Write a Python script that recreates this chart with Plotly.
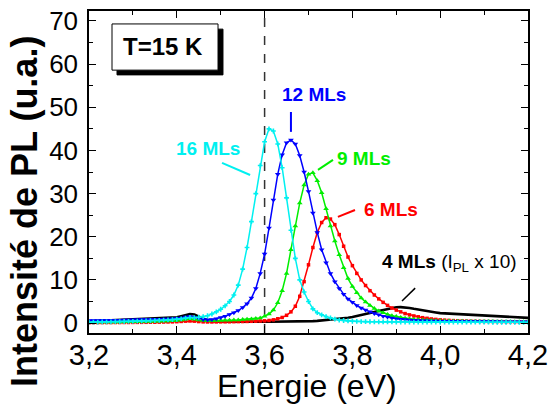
import numpy as np
import plotly.graph_objects as go

# ---------------- data ----------------
energy = [round(3.20 + 0.01 * i, 2) for i in range(101)]

ml16_cyan = [
    0.20, 0.22, 0.24, 0.26, 0.28, 0.30, 0.32, 0.34, 0.36, 0.38,
    0.40, 0.43, 0.46, 0.50, 0.54, 0.58, 0.62, 0.68, 0.74, 0.80,
    0.88, 0.98, 1.15, 1.30, 1.25, 1.35, 1.50, 1.70, 2.10, 2.60,
    3.20, 4.00, 5.00, 6.50, 8.80, 12.5, 17.5, 23.5, 30.0, 36.5,
    42.0, 45.0, 44.5, 41.5, 36.0, 29.0, 21.5, 15.0, 10.0, 7.20,
    5.00, 3.30, 2.40, 1.90, 1.50, 1.20, 0.90, 0.70, 0.60, 0.50,
    0.42, 0.38, 0.35, 0.33, 0.31, 0.30, 0.29, 0.28, 0.27, 0.26,
    0.25, 0.25, 0.24, 0.24, 0.24, 0.23, 0.23, 0.23, 0.22, 0.22,
    0.22, 0.22, 0.21, 0.21, 0.21, 0.21, 0.20, 0.20, 0.20, 0.20,
    0.20, 0.20, 0.19, 0.19, 0.19, 0.19, 0.19, 0.18, 0.18, 0.18, 0.18,
]

ml12_blue = [
    0.60, 0.61, 0.62, 0.63, 0.64, 0.65, 0.66, 0.68, 0.70, 0.72,
    0.75, 0.78, 0.80, 0.82, 0.85, 0.88, 0.90, 0.93, 0.96, 1.00,
    1.10, 1.20, 1.40, 1.50, 1.35, 1.10, 0.85, 0.75, 0.80, 1.00,
    1.30, 1.60, 2.00, 2.40, 2.90, 3.60, 4.50, 5.80, 8.00, 11.5,
    16.0, 22.0, 28.5, 34.5, 39.0, 41.8, 42.4, 41.5, 38.8, 35.0,
    30.5, 25.5, 21.0, 17.0, 14.0, 11.5, 9.60, 8.00, 6.70, 5.60,
    4.80, 4.10, 3.50, 3.00, 2.60, 2.20, 1.90, 1.60, 1.40, 1.20,
    1.00, 0.90, 0.80, 0.72, 0.65, 0.60, 0.56, 0.52, 0.49, 0.47,
    0.45, 0.44, 0.43, 0.42, 0.41, 0.40, 0.39, 0.38, 0.37, 0.36,
    0.35, 0.35, 0.34, 0.34, 0.33, 0.33, 0.32, 0.32, 0.31, 0.31, 0.30,
]

ml9_green = [
    0.20, 0.21, 0.22, 0.23, 0.24, 0.25, 0.26, 0.27, 0.28, 0.29,
    0.30, 0.32, 0.34, 0.36, 0.38, 0.40, 0.43, 0.46, 0.50, 0.55,
    0.62, 0.72, 0.90, 1.00, 0.90, 0.70, 0.58, 0.55, 0.56, 0.58,
    0.60, 0.63, 0.66, 0.70, 0.74, 0.80, 0.86, 0.95, 1.05, 1.20,
    1.60, 2.10, 3.00, 4.70, 7.50, 11.5, 17.0, 22.5, 27.8, 32.0,
    34.5, 34.8, 33.0, 30.2, 26.5, 22.5, 19.0, 15.8, 12.8, 10.3,
    8.50, 7.00, 5.80, 4.90, 4.10, 3.40, 2.80, 2.40, 2.00, 1.70,
    1.50, 1.30, 1.10, 0.98, 0.88, 0.80, 0.72, 0.66, 0.60, 0.56,
    0.52, 0.49, 0.46, 0.44, 0.42, 0.40, 0.39, 0.38, 0.37, 0.36,
    0.35, 0.34, 0.34, 0.33, 0.33, 0.32, 0.32, 0.31, 0.31, 0.30, 0.30,
]

ml6_red = [
    0.10, 0.10, 0.11, 0.11, 0.12, 0.12, 0.13, 0.13, 0.14, 0.14,
    0.15, 0.16, 0.17, 0.18, 0.19, 0.20, 0.22, 0.24, 0.26, 0.28,
    0.32, 0.38, 0.45, 0.50, 0.45, 0.35, 0.28, 0.26, 0.26, 0.27,
    0.28, 0.29, 0.30, 0.32, 0.34, 0.36, 0.38, 0.41, 0.44, 0.48,
    0.52, 0.60, 0.75, 1.00, 1.30, 1.80, 2.60, 3.90, 6.20, 9.60,
    13.5, 17.5, 21.0, 23.3, 24.4, 24.1, 22.8, 20.5, 17.8, 15.3,
    13.3, 11.5, 10.0, 8.70, 7.50, 6.50, 5.60, 4.80, 4.10, 3.50,
    3.00, 2.60, 2.20, 1.90, 1.65, 1.45, 1.25, 1.10, 0.95, 0.85,
    0.75, 0.68, 0.62, 0.57, 0.53, 0.50, 0.47, 0.44, 0.42, 0.40,
    0.38, 0.37, 0.36, 0.35, 0.34, 0.33, 0.32, 0.31, 0.30, 0.30, 0.29,
]

ml4_black_x10 = [
    0.40, 0.44, 0.48, 0.52, 0.56, 0.60, 0.64, 0.68, 0.72, 0.76,
    0.80, 0.84, 0.88, 0.92, 0.96, 1.00, 1.05, 1.10, 1.15, 1.20,
    1.35, 1.60, 1.90, 2.10, 2.00, 1.50, 1.00, 0.70, 0.50, 0.40,
    0.35, 0.33, 0.32, 0.31, 0.30, 0.30, 0.30, 0.30, 0.30, 0.30,
    0.30, 0.30, 0.30, 0.31, 0.32, 0.33, 0.34, 0.35, 0.37, 0.39,
    0.42, 0.46, 0.52, 0.60, 0.70, 0.80, 0.90, 1.00, 1.10, 1.25,
    1.40, 1.60, 1.80, 2.05, 2.30, 2.55, 2.80, 3.05, 3.30, 3.50,
    3.65, 3.70, 3.65, 3.50, 3.30, 3.10, 2.90, 2.75, 2.60, 2.45,
    2.30, 2.25, 2.20, 2.15, 2.10, 2.05, 2.00, 1.95, 1.90, 1.85,
    1.75, 1.70, 1.65, 1.55, 1.50, 1.45, 1.40, 1.35, 1.30, 1.25, 1.20,
]

x_tickvals = [3.2, 3.4, 3.6, 3.8, 4.0, 4.2]
x_ticktext = ["3,2", "3,4", "3,6", "3,8", "4,0", "4,2"]
x_minor = [3.3, 3.5, 3.7, 3.9, 4.1]
y_tickvals = [0, 10, 20, 30, 40, 50, 60, 70]
y_ticktext = ["0", "10", "20", "30", "40", "50", "60", "70"]
y_minor = [5, 15, 25, 35, 45, 55, 65]

CYAN = "#00f0f0"
BLUE = "#0000ff"
GREEN = "#00ee00"
RED = "#ff0000"
FONT = "Liberation Sans, Arial, Helvetica, sans-serif"

fig = go.Figure()

fig.add_trace(go.Scatter(x=energy, y=ml4_black_x10, mode="lines",
                         line=dict(color="black", width=2.6), name="4 MLs"))
fig.add_trace(go.Scatter(x=energy, y=ml6_red, mode="lines+markers",
                         line=dict(color=RED, width=1.5),
                         marker=dict(symbol="square", size=3.5, color=RED), name="6 MLs"))
fig.add_trace(go.Scatter(x=energy, y=ml9_green, mode="lines+markers",
                         line=dict(color=GREEN, width=1.5),
                         marker=dict(symbol="triangle-up", size=5, color=GREEN), name="9 MLs"))
fig.add_trace(go.Scatter(x=energy, y=ml12_blue, mode="lines+markers",
                         line=dict(color=BLUE, width=1.5),
                         marker=dict(symbol="triangle-down", size=5, color=BLUE), name="12 MLs"))
fig.add_trace(go.Scatter(x=energy, y=ml16_cyan, mode="lines+markers",
                         line=dict(color=CYAN, width=1.5),
                         marker=dict(symbol="cross", size=4, color=CYAN), name="16 MLs"))

shapes = [
    dict(type="line", xref="x", yref="paper", x0=3.6, x1=3.6, y0=0, y1=1,
         line=dict(color="#333333", width=1.5, dash="dash"), layer="below"),
    # T=15 K box shadow + box
    dict(type="rect", xref="x", yref="y", x0=3.2638, x1=3.5052, y0=57.5, y1=68.1,
         fillcolor="black", line=dict(color="black", width=1)),
    dict(type="rect", xref="x", yref="y", x0=3.2524, x1=3.4939, y0=58.6, y1=69.3,
         fillcolor="white", line=dict(color="black", width=1)),
    # leader lines
    dict(type="line", xref="x", yref="y", x0=3.503, y0=37.1, x1=3.567, y1=34.3,
         line=dict(color=CYAN, width=2)),
    dict(type="line", xref="x", yref="y", x0=3.660, y0=48.9, x1=3.660, y1=44.3,
         line=dict(color=BLUE, width=2)),
    dict(type="line", xref="x", yref="y", x0=3.7216, y0=35.5, x1=3.7558, y1=37.8,
         line=dict(color=GREEN, width=2)),
    dict(type="line", xref="x", yref="y", x0=3.767, y0=24.6, x1=3.806, y1=26.2,
         line=dict(color=RED, width=2)),
    dict(type="line", xref="x", yref="y", x0=3.913, y0=5.1, x1=3.943, y1=8.1,
         line=dict(color="black", width=1.5)),
]

annotations = [
    dict(x=3.3686, y=64.0, xref="x", yref="y", text="<b>T=15 K</b>", showarrow=False,
         font=dict(size=24, color="black", family=FONT)),
    dict(x=3.470, y=40.4, xref="x", yref="y", text="<b>16 MLs</b>", showarrow=False,
         font=dict(size=19, color=CYAN, family=FONT)),
    dict(x=3.7125, y=52.9, xref="x", yref="y", text="<b>12 MLs</b>", showarrow=False,
         font=dict(size=19, color=BLUE, family=FONT)),
    dict(x=3.8264, y=38.2, xref="x", yref="y", text="<b>9 MLs</b>", showarrow=False,
         font=dict(size=19, color=GREEN, family=FONT)),
    dict(x=3.888, y=26.2, xref="x", yref="y", text="<b>6 MLs</b>", showarrow=False,
         font=dict(size=19, color=RED, family=FONT)),
    dict(x=4.0223, y=13.9, xref="x", yref="y",
         text="<b>4 MLs</b> (I<sub>PL</sub> x 10)", showarrow=False,
         font=dict(size=19, color="black", family=FONT)),
    # axis titles
    dict(x=(307 - 89) / 439, y=(333 - 386) / 322, xref="paper", yref="paper",
         text="Energie (eV)", showarrow=False, xanchor="center", yanchor="middle",
         font=dict(size=32, color="black", family=FONT)),
    dict(x=(24 - 89) / 439, y=(333 - 212) / 322, xref="paper", yref="paper",
         text="<b>Intensité de PL (u.a.)</b>", showarrow=False, textangle=-90,
         xanchor="center", yanchor="middle",
         font=dict(size=36, color="black", family=FONT)),
]

fig.update_layout(
    width=551, height=405, autosize=False,
    margin=dict(l=89, r=23, t=11, b=72, autoexpand=False),
    paper_bgcolor="white", plot_bgcolor="white",
    showlegend=False,
    shapes=shapes,
    annotations=annotations,
    font=dict(family=FONT, color="black"),
)

fig.update_xaxes(
    range=[3.2, 4.2], showgrid=False, zeroline=False, automargin=False,
    showline=True, linecolor="black", linewidth=1.5, mirror="ticks",
    ticks="inside", ticklen=7, tickwidth=1.2, tickcolor="black",
    tickvals=x_tickvals, ticktext=x_ticktext,
    tickfont=dict(size=29, family=FONT, color="black"),
    ticklabelstandoff=-5,
    minor=dict(tickvals=x_minor, ticks="inside", ticklen=4, tickwidth=1.2, tickcolor="black"),
)
fig.update_yaxes(
    range=[-2.3, 72.3], showgrid=False, zeroline=False, automargin=False,
    showline=True, linecolor="black", linewidth=1.5, mirror="ticks",
    ticks="inside", ticklen=7, tickwidth=1.2, tickcolor="black",
    tickvals=y_tickvals, ticktext=y_ticktext,
    tickfont=dict(size=26, family=FONT, color="black"),
    ticklabelstandoff=4,
    minor=dict(tickvals=y_minor, ticks="inside", ticklen=4, tickwidth=1.2, tickcolor="black"),
)

fig.write_html("out.html", config={"displayModeBar": False},
               post_script="document.body.style.margin='0';document.body.style.overflow='hidden';")
